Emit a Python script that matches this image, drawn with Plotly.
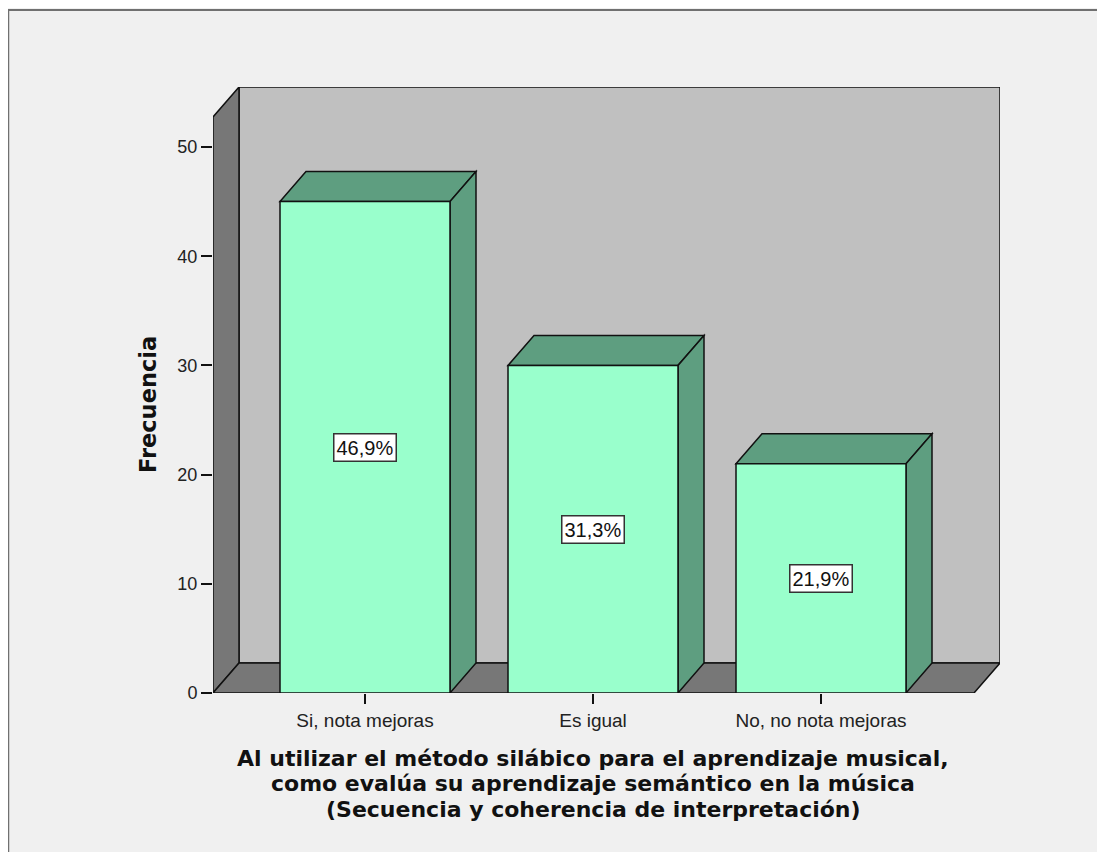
import plotly.graph_objects as go

categories = ["Si, nota mejoras", "Es igual", "No, no nota mejoras"]
frecuencia = [45, 30, 21]
porcentajes = ["46,9%", "31,3%", "21,9%"]
y_ticks = [0, 10, 20, 30, 40, 50]
y_title = "Frecuencia"
x_title_lines = [
    "Al utilizar el método silábico para el aprendizaje musical,",
    "como evalúa su aprendizaje semántico en la música",
    "(Secuencia y coherencia de interpretación)",
]

# ---- layout geometry (page pixels; the page body has an 8px margin) ----
OFF = 8
PAGE_W, PAGE_H = 1105, 852
W, H = PAGE_W - OFF, PAGE_H - OFF     # figure fits the window exactly
PLOT_LEFT, PLOT_RIGHT, PLOT_TOP, PLOT_BOTTOM = 213, 1000, 87, 693
L = PLOT_LEFT - OFF
R = W - (PLOT_RIGHT - OFF)
T = PLOT_TOP - OFF
B = H - (PLOT_BOTTOM - OFF)
PW, PH = PLOT_RIGHT - PLOT_LEFT, PLOT_BOTTOM - PLOT_TOP
X0_PX, X_STEP = 365.0, 228.0          # page pixel of category 0 and spacing
Y_SCALE = 10.92                       # pixels per unit
x_min = (PLOT_LEFT - X0_PX) / X_STEP
x_max = (PLOT_RIGHT - X0_PX) / X_STEP
y_max = PH / Y_SCALE
DX = 26 / X_STEP                      # depth offset in data units
DY = 30 / Y_SCALE
BAR_W = 170 / X_STEP
wall_top = (PLOT_BOTTOM - 117) / Y_SCALE
floor_right = x_max - DX

def px_to_paper_x(px):
    return (px - PLOT_LEFT) / PW

def py_to_paper_y(py):
    return (PLOT_BOTTOM - py) / PH

WALL = "#C0C0C0"
DARK = "#777777"
FRONT = "#99FFCC"
SIDE = "#5E9E80"
LINE = dict(color="#111111", width=1.5)

def poly(pts):
    return "M " + " L ".join(f"{x},{y}" for x, y in pts) + " Z"

shapes = []
# back wall
shapes.append(dict(type="path", xref="x", yref="y", layer="below",
                   path=poly([(x_min + DX, DY), (x_max, DY), (x_max, wall_top + DY), (x_min + DX, wall_top + DY)]),
                   fillcolor=WALL, line=LINE))
# left wall
shapes.append(dict(type="path", xref="x", yref="y", layer="below",
                   path=poly([(x_min, 0), (x_min, wall_top), (x_min + DX, wall_top + DY), (x_min + DX, DY)]),
                   fillcolor=DARK, line=LINE))
# floor
shapes.append(dict(type="path", xref="x", yref="y", layer="below",
                   path=poly([(x_min, 0), (floor_right, 0), (x_max, DY), (x_min + DX, DY)]),
                   fillcolor=DARK, line=LINE))
# bar tops and sides
for i, v in enumerate(frecuencia):
    xl, xr = i - BAR_W / 2, i + BAR_W / 2
    shapes.append(dict(type="path", xref="x", yref="y", layer="below",
                       path=poly([(xl, v), (xr, v), (xr + DX, v + DY), (xl + DX, v + DY)]),
                       fillcolor=SIDE, line=LINE))
    shapes.append(dict(type="path", xref="x", yref="y", layer="below",
                       path=poly([(xr, 0), (xr + DX, DY), (xr + DX, v + DY), (xr, v)]),
                       fillcolor=SIDE, line=LINE))

# outer frame border (top and left)
shapes.append(dict(type="line", xref="paper", yref="paper",
                   x0=px_to_paper_x(OFF), x1=px_to_paper_x(PAGE_W), y0=py_to_paper_y(10), y1=py_to_paper_y(10),
                   line=dict(color="#707070", width=2)))
shapes.append(dict(type="line", xref="paper", yref="paper",
                   x0=px_to_paper_x(OFF), x1=px_to_paper_x(OFF), y0=py_to_paper_y(9), y1=py_to_paper_y(PAGE_H),
                   line=dict(color="#707070", width=2.5)))

fig = go.Figure()
fig.add_trace(go.Bar(x=list(range(len(categories))), y=frecuencia, width=BAR_W,
                     marker=dict(color=FRONT, line=LINE), hoverinfo="skip"))

TITLE_FONT = "DejaVu Sans"
annotations = []
for i, (v, p) in enumerate(zip(frecuencia, porcentajes)):
    annotations.append(dict(x=i, y=v / 2, xref="x", yref="y", text=p, showarrow=False,
                            xanchor="center", yanchor="middle",
                            font=dict(family="Liberation Sans", size=20, color="#111"),
                            bgcolor="white", bordercolor="#333", borderwidth=1.5, borderpad=2))
annotations.append(dict(x=px_to_paper_x(148), y=py_to_paper_y(405), xref="paper", yref="paper",
                        xanchor="center", yanchor="middle",
                        text=y_title, textangle=-90, showarrow=False,
                        font=dict(family=TITLE_FONT, size=22.5, color="#111", weight="bold")))
for k, line in enumerate(x_title_lines):
    annotations.append(dict(x=1, y=py_to_paper_y(758 + 25.5 * k), xref="x", yref="paper",
                            xanchor="center", yanchor="middle",
                            text=line, showarrow=False,
                            font=dict(family=TITLE_FONT, size=22, color="#111", weight="bold")))

fig.update_layout(
    width=W, height=H,
    margin=dict(l=L, r=R, t=T, b=B, pad=0),
    paper_bgcolor="#F0F0F0", plot_bgcolor="#F0F0F0",
    showlegend=False,
    shapes=shapes, annotations=annotations,
    xaxis=dict(range=[x_min, x_max], tickvals=list(range(len(categories))), ticktext=categories,
               ticks="outside", ticklen=10, tickwidth=1.5, tickcolor="#111",
               showline=False, showgrid=False, zeroline=False,
               tickfont=dict(family="Liberation Sans", size=19, color="#222")),
    yaxis=dict(range=[0, y_max], tickvals=y_ticks, ticks="outside", ticklen=11, tickwidth=1.5,
               tickcolor="#111", showline=False, showgrid=False, zeroline=False,
               tickfont=dict(family="Liberation Sans", size=18, color="#222")),
)

fig.write_html("out.html")
